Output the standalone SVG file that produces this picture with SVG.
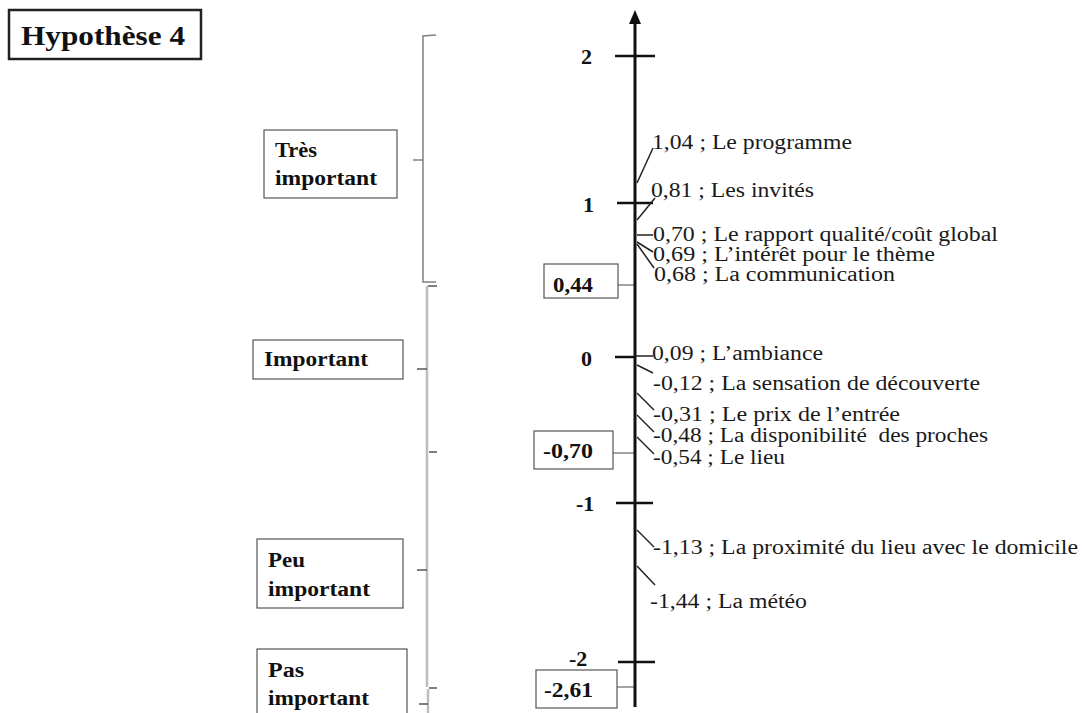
<svg xmlns="http://www.w3.org/2000/svg" width="1082" height="713" viewBox="0 0 1082 713">
  <style>
    .lbl { font-family: "Liberation Serif", "Times New Roman", serif; font-size: 20px; fill: #1a1a1a; }
    .bold { font-family: "Liberation Serif", "Times New Roman", serif; font-weight: bold; fill: #111; }
    .box { fill: #fff; stroke: #555; stroke-width: 1.2; }
    .tick { stroke: #111; stroke-width: 2.5; fill: none; }
    .lead { stroke: #222; stroke-width: 1.5; fill: none; }
    .link { stroke: #666; stroke-width: 1.2; fill: none; }
    .brace-dark { stroke: #808080; stroke-width: 1.5; fill: none; }
    .brace-light { stroke: #bdbdbd; stroke-width: 2.5; fill: none; }
    .hook { stroke: #555; stroke-width: 1.5; fill: none; }
  </style>

  <!-- title -->
  <g id="title">
    <rect x="9" y="10" width="192" height="49" fill="#fff" stroke="#222" stroke-width="2.5"/>
    <text class="bold" x="21" y="45" font-size="28" textLength="164" lengthAdjust="spacingAndGlyphs">Hypothèse 4</text>
  </g>

  <!-- category braces -->
  <g id="braces">
    <path class="brace-dark" d="M436,35 L423,36 L423,282 L436,282 M423,160 L413,160"/>
    <path class="brace-light" d="M427,286 L427,687"/>
    <path class="brace-light" d="M428,689 L428,713"/>
    <path class="hook" d="M437,286 L428,286 M427,369 L417,369 M429,452 L437,452 M427,570 L417,570 M429,688 L437,688 M428,704 L419,704"/>
  </g>

  <!-- category boxes -->
  <g id="cat-tres-important">
    <rect class="box" x="264" y="130" width="133" height="68"/>
    <text class="bold" x="275" y="157" font-size="20" textLength="42" lengthAdjust="spacingAndGlyphs">Très</text>
    <text class="bold" x="275" y="185" font-size="20" textLength="102" lengthAdjust="spacingAndGlyphs">important</text>
  </g>
  <g id="cat-important">
    <rect class="box" x="253" y="340" width="150" height="39"/>
    <text class="bold" x="264" y="366" font-size="20" textLength="104" lengthAdjust="spacingAndGlyphs">Important</text>
  </g>
  <g id="cat-peu-important">
    <rect class="box" x="257" y="539" width="146" height="69"/>
    <text class="bold" x="268" y="567" font-size="20" textLength="37" lengthAdjust="spacingAndGlyphs">Peu</text>
    <text class="bold" x="268" y="596" font-size="20" textLength="102" lengthAdjust="spacingAndGlyphs">important</text>
  </g>
  <g id="cat-pas-important">
    <rect class="box" x="257" y="649" width="150" height="72"/>
    <text class="bold" x="268" y="677" font-size="20" textLength="36" lengthAdjust="spacingAndGlyphs">Pas</text>
    <text class="bold" x="268" y="705" font-size="20" textLength="101" lengthAdjust="spacingAndGlyphs">important</text>
  </g>

  <!-- threshold boxes and their links to the axis -->
  <g id="connectors">
    <path class="link" d="M618,285 L635,285"/>
    <path class="link" d="M613,453 L635,453"/>
    <path class="link" d="M617,687 L635,687"/>
  </g>
  <g id="thr-044">
    <rect class="box" x="544" y="264" width="74" height="34"/>
    <text class="bold" x="553" y="292" font-size="20" textLength="40" lengthAdjust="spacingAndGlyphs">0,44</text>
  </g>
  <g id="thr-070">
    <rect class="box" x="534" y="431" width="79" height="38"/>
    <text class="bold" x="543" y="458" font-size="20" textLength="50" lengthAdjust="spacingAndGlyphs">-0,70</text>
  </g>
  <g id="thr-261">
    <rect class="box" x="536" y="670" width="81" height="38"/>
    <text class="bold" x="544" y="697" font-size="20" textLength="49" lengthAdjust="spacingAndGlyphs">-2,61</text>
  </g>

  <!-- vertical axis with ticks -->
  <g id="axis">
    <line x1="635" y1="22" x2="635" y2="707" stroke="#111" stroke-width="3"/>
    <polygon points="635,10 629,24 641,24" fill="#111"/>
    <path class="tick" d="M615,56 L655,56 M617,203 L653,203 M615,357 L636,357 M616,503 L653,503 M618,662 L655,662"/>
    <text class="bold" x="581" y="64" font-size="22">2</text>
    <text class="bold" x="583" y="212" font-size="22">1</text>
    <text class="bold" x="581" y="366" font-size="22">0</text>
    <text class="bold" x="576" y="511" font-size="22">-1</text>
    <text class="bold" x="569" y="666" font-size="22">-2</text>
  </g>

  <!-- leader lines from the axis to item labels -->
  <g id="leaders">
    <path class="lead" d="M637,183 L653,148"/>
    <path class="lead" d="M637,220 L655,198"/>
    <path class="lead" d="M637,235 L653,235"/>
    <path class="lead" d="M637,242 L653,252"/>
    <path class="lead" d="M637,244 L654,268"/>
    <path class="lead" d="M635,356 L653,356"/>
    <path class="lead" d="M637,365 L653,373"/>
    <path class="lead" d="M637,393 L654,410"/>
    <path class="lead" d="M637,415 L654,432"/>
    <path class="lead" d="M637,437 L654,454"/>
    <path class="lead" d="M637,530 L654,547"/>
    <path class="lead" d="M637,566 L655,585"/>
  </g>

  <!-- item labels -->
  <g id="items">
    <text class="lbl" x="652" y="149" textLength="200" lengthAdjust="spacingAndGlyphs">1,04 ; Le programme</text>
    <text class="lbl" x="651" y="197" textLength="163" lengthAdjust="spacingAndGlyphs">0,81 ; Les invités</text>
    <text class="lbl" x="653" y="241" textLength="345" lengthAdjust="spacingAndGlyphs">0,70 ; Le rapport qualité/coût global</text>
    <text class="lbl" x="653" y="261" textLength="282" lengthAdjust="spacingAndGlyphs">0,69 ; L’intérêt pour le thème</text>
    <text class="lbl" x="654" y="281" textLength="241" lengthAdjust="spacingAndGlyphs">0,68 ; La communication</text>
    <text class="lbl" x="652" y="360" textLength="171" lengthAdjust="spacingAndGlyphs">0,09 ; L’ambiance</text>
    <text class="lbl" x="653" y="390" textLength="327" lengthAdjust="spacingAndGlyphs">-0,12 ; La sensation de découverte</text>
    <text class="lbl" x="653" y="421" textLength="247" lengthAdjust="spacingAndGlyphs">-0,31 ; Le prix de l’entrée</text>
    <text class="lbl" x="653" y="442" textLength="335" lengthAdjust="spacingAndGlyphs" xml:space="preserve">-0,48 ; La disponibilité  des proches</text>
    <text class="lbl" x="653" y="464" textLength="132" lengthAdjust="spacingAndGlyphs">-0,54 ; Le lieu</text>
    <text class="lbl" x="653" y="554" textLength="425" lengthAdjust="spacingAndGlyphs">-1,13 ; La proximité du lieu avec le domicile</text>
    <text class="lbl" x="650" y="608" textLength="157" lengthAdjust="spacingAndGlyphs">-1,44 ; La météo</text>
  </g>
</svg>
